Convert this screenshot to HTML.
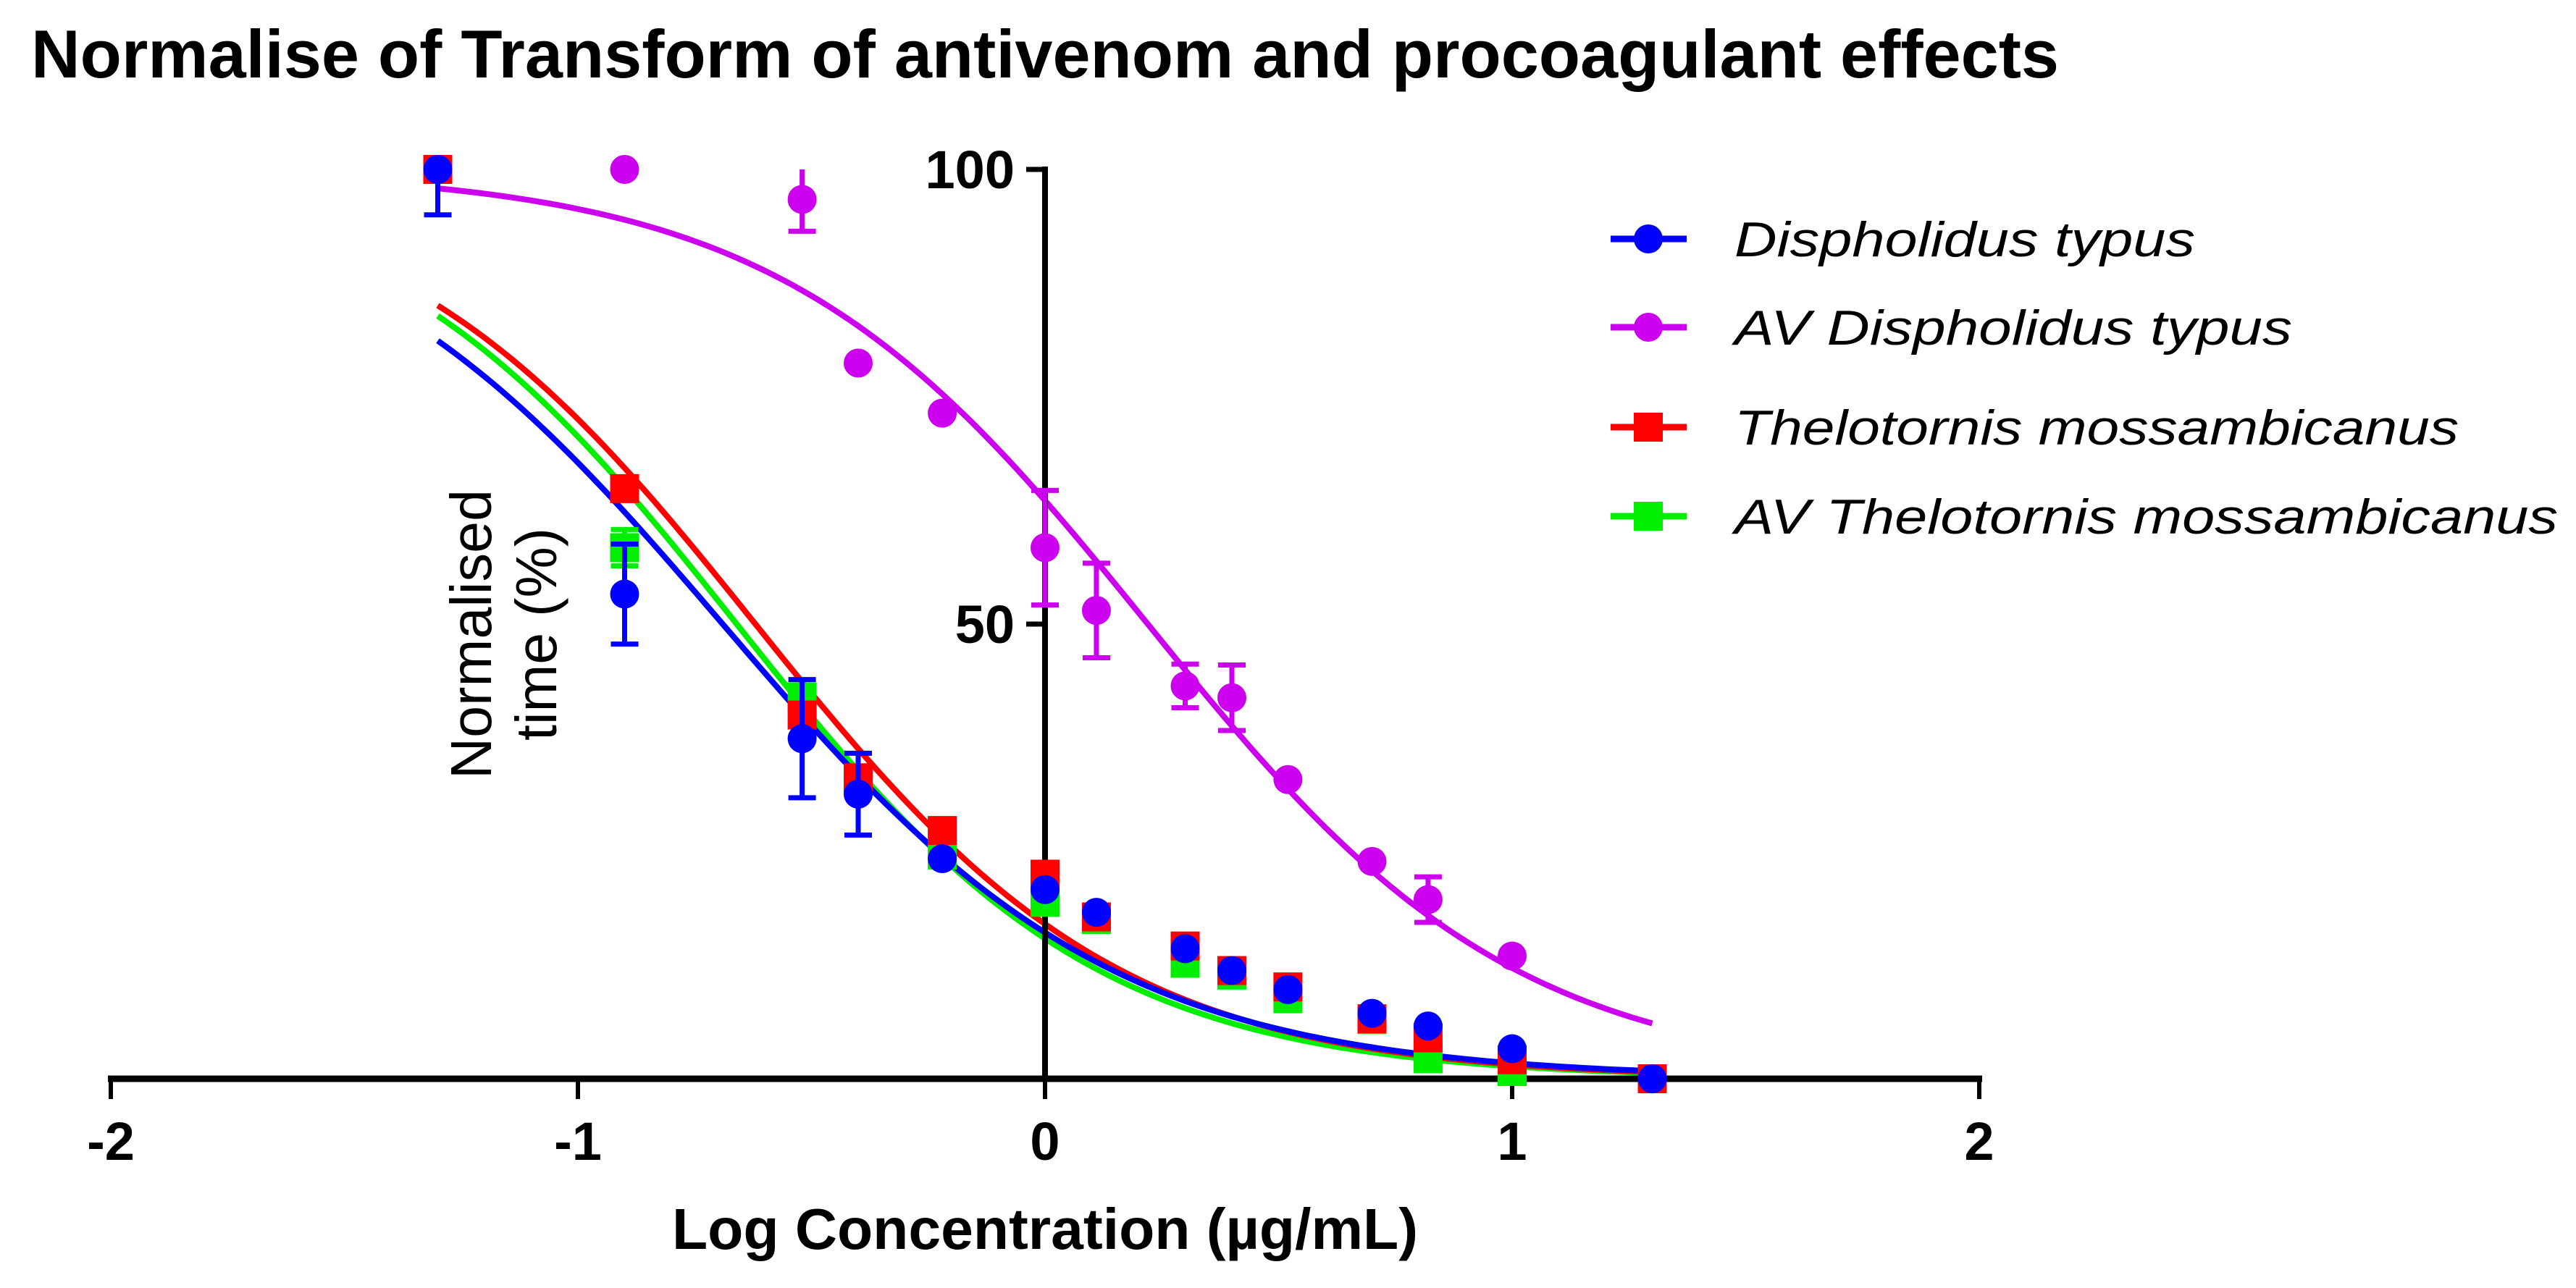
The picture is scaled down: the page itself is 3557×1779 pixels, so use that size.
<!DOCTYPE html>
<html><head><meta charset="utf-8"><style>html,body{margin:0;padding:0;background:#fff}svg{display:block}</style></head>
<body>
<svg id="chart" width="3557" height="1779" xmlns="http://www.w3.org/2000/svg">
<rect width="3557" height="1779" fill="#fff"/>
<text x="43" y="107" font-family="Liberation Sans, sans-serif" font-weight="bold" font-size="94" textLength="2800" lengthAdjust="spacingAndGlyphs">Normalise of Transform of antivenom and procoagulant effects</text>
<g id="curves"></g>
<g id="axes"></g>
<g id="points"></g>
<text x="1443" y="1725" text-anchor="middle" font-family="Liberation Sans, sans-serif" font-weight="bold" font-size="80" textLength="1030" lengthAdjust="spacingAndGlyphs">Log Concentration (µg/mL)</text>
<g font-family="Liberation Sans, sans-serif" font-size="80">
<text x="0" y="0" text-anchor="middle" transform="translate(678,876) rotate(-90)" textLength="400" lengthAdjust="spacingAndGlyphs">Normalised</text>
<text x="0" y="0" text-anchor="middle" transform="translate(768,876) rotate(-90)" textLength="294" lengthAdjust="spacingAndGlyphs">time (%)</text>
</g>
<g id="legend"></g>
</svg>
<script>
const xTicks = [-2, -1, 0, 1, 2];
const yTicks = [50, 100];
const logConc = [-1.3, -0.9, -0.52, -0.4, -0.22, 0, 0.11, 0.3, 0.4, 0.52, 0.7, 0.82, 1.0, 1.3];
const dtValues = [100, 53.3, 37.4, 31.3, 24.2, 20.8, 18.3, 14.3, 11.9, 9.8, 7.2, 5.8, 3.3, 0];
const dtErrors = [5, 5.5, 6.5, 4.5, 0, 0, 0, 0, 0, 0, 0, 0, 0, 0];
const avdtValues = [100, 100, 96.7, 78.7, 73.2, 58.4, 51.5, 43.2, 41.9, 32.9, 23.9, 19.7, 13.5, null];
const avdtErrors = [0, 0, 3.5, 0, 0, 6.3, 5.2, 2.4, 3.6, 0, 0, 2.5, 0, 0];
const tmValues = [100, 64.9, 40, 33.1, 27.3, 22.5, 17.8, 14.6, 11.9, 10.1, 6.6, 4.5, 2.1, 0];
const tmErrors = [1, 0, 0, 0, 0, 0, 0, 0, 0, 0, 0, 0, 0, 0];
const avtmValues = [100, 58.4, 42, 32.7, 24.6, 19.4, 17.5, 12.7, 11.4, 8.8, 6.5, 2.2, 0.8, 0];
const avtmErrors = [0, 2, 0, 0, 0, 0, 0, 0, 0, 0, 0, 0, 0, 0];
// fit parameters: [logIC50, hillSlope]
const dtFit = [-0.69, 1.04];
const avdtFit = [0.22, 1.1];
const tmFit = [-0.62, 1.11];
const avtmFit = [-0.66, 1.12];
const seriesNames = ["Dispholidus typus", "AV Dispholidus typus", "Thelotornis mossambicanus", "AV Thelotornis mossambicanus"];

const NS = "http://www.w3.org/2000/svg";
const X = v => 1443 + 645 * v;
const Y = v => 1490 - 12.56 * v;
function mk(tag, attrs, parent) { const e = document.createElementNS(NS, tag); for (const k in attrs) e.setAttribute(k, attrs[k]); parent.appendChild(e); return e; }

const axes = document.getElementById('axes');
let e = mk('line', {x1: X(-2) - 4, x2: X(2) + 4, y1: Y(0), y2: Y(0), stroke: '#000', 'stroke-width': 9}, axes);


e = mk('line', {x1: X(0), x2: X(0), y1: Y(100) - 4, y2: Y(0), stroke: '#000', 'stroke-width': 8}, axes);


xTicks.forEach(t => {
  let l = mk('line', {x1: X(t), x2: X(t), y1: Y(0), y2: Y(0) + 28, stroke: '#000', 'stroke-width': 6}, axes);
  
  
  let tx = mk('text', {x: X(t), y: 1602, 'text-anchor': 'middle', 'font-family': 'Liberation Sans, sans-serif', 'font-weight': 'bold', 'font-size': 74}, axes);
  tx.textContent = String(t);
  
  
});
yTicks.forEach(t => {
  let l = mk('line', {x1: X(0) - 26, x2: X(0), y1: Y(t), y2: Y(t), stroke: '#000', 'stroke-width': 7}, axes);
  
  
  let tx = mk('text', {x: X(0) - 42, y: Y(t) + 26, 'text-anchor': 'end', 'font-family': 'Liberation Sans, sans-serif', 'font-weight': 'bold', 'font-size': 74}, axes);
  tx.textContent = String(t);
  
  
});

const series = [
  {name: 'avtm', vals: avtmValues, errs: avtmErrors, fit: avtmFit, color: '#00ee00', shape: 'square', label: 3},
  {name: 'tm', vals: tmValues, errs: tmErrors, fit: tmFit, color: '#ff0000', shape: 'square', label: 2},
  {name: 'avdt', vals: avdtValues, errs: avdtErrors, fit: avdtFit, color: '#cc00ee', shape: 'circle', label: 1},
  {name: 'dt', vals: dtValues, errs: dtErrors, fit: dtFit, color: '#0000ff', shape: 'circle', label: 0}
];
const curves = document.getElementById('curves');
const points = document.getElementById('points');
function marker(parent, cx, cy, s) {
  if (s.shape === 'square') return mk('rect', {x: cx - 20, y: cy - 20, width: 40, height: 40, fill: s.color}, parent);
  return mk('ellipse', {cx: cx, cy: cy, rx: 20, ry: 20, fill: s.color}, parent);
}
series.forEach(s => {
  let d = '';
  for (let i = 0; i <= 130; i++) {
    const xv = -1.3 + i * 0.02;
    const yv = 100 / (1 + Math.pow(10, (xv - s.fit[0]) * s.fit[1]));
    d += (i ? 'L' : 'M') + X(xv).toFixed(1) + ' ' + Y(yv).toFixed(1);
  }
  const p = mk('path', {d: d, fill: 'none', stroke: s.color, 'stroke-width': 8}, curves);
  
  
});
series.forEach(s => {
  const g = mk('g', {}, points);
  
  
  logConc.forEach((xv, i) => {
    const v = s.vals[i];
    if (v === null || v === undefined) return;
    const er = s.errs[i];
    if (er > 0) {
      const top = Math.min(100, v + er);
      const bot = v - er;
      let d = `M${X(xv)} ${Y(top)}V${Y(bot)}M${X(xv) - 19} ${Y(bot)}h38`;
      if (v + er <= 100) d += `M${X(xv) - 19} ${Y(top)}h38`;
      const eb = mk('path', {d: d, stroke: s.color, 'stroke-width': 7, fill: 'none'}, g);
      
      
    }
    const m = marker(g, X(xv), Y(v), s);
    
    
  });
});
const legend = document.getElementById('legend');
const legendY = [330, 452, 590, 713];
[3, 2, 1, 0].forEach(idx => {
  const s = series[idx];
  const cy = legendY[s.label];
  const g = mk('g', {}, legend);
  
  
  mk('line', {x1: 2224, x2: 2329, y1: cy, y2: cy, stroke: s.color, 'stroke-width': 9}, g);
  marker(g, 2276, cy, s);
  const names = seriesNames[s.label];
  const widths = [636, 770, 1000, 1137];
  const t = mk('text', {x: 2395, y: cy + 24, 'font-family': 'Liberation Sans, sans-serif', 'font-style': 'italic', 'font-size': 68, textLength: widths[s.label], lengthAdjust: 'spacingAndGlyphs'}, g);
  t.textContent = names;
});
</script>
</body></html>
